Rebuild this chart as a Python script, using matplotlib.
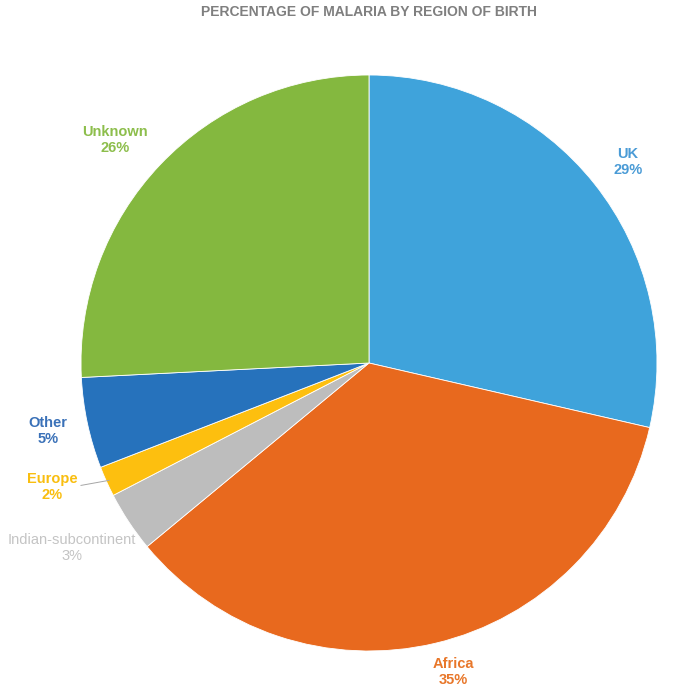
import numpy as np
import matplotlib.pyplot as plt

plt.rcParams['font.family'] = ['Liberation Sans', 'DejaVu Sans']

# Data (displayed rounded)
regions = ['UK', 'Africa', 'Indian-subcontinent', 'Europe', 'Other', 'Unknown']
shares = [28.6, 35.4, 3.4, 1.7, 5.1, 25.8]
colors = ['#3FA3DB', '#E8691E', '#BDBDBD', '#FDBF0F', '#2672BC', '#84B83F']
label_colors = ['#4A9BD6', '#E8772A', '#C4C4C4', '#F9BE10', '#3A71B8', '#8DBE4C']

# label centres (in pie radius units) and weight per slice
label_pos = [(0.899, 0.698), (0.292, -1.073), (-1.031, -0.642),
             (-1.101, -0.431), (-1.115, -0.236), (-0.882, 0.773)]
label_bold = [True, True, False, True, True, True]

fig = plt.figure(figsize=(6.74, 6.92), dpi=100)
ax = fig.add_axes([0, 0, 1, 1])

wedges, _ = ax.pie(shares, colors=colors, startangle=90, counterclock=False,
                   wedgeprops=dict(edgecolor='white', linewidth=0.6))

ax.set_aspect('auto')
ax.set_xlim(-369 / 288, (674 - 369) / 288)
ax.set_ylim(-(692 - 363) / 288, 363 / 288)
ax.axis('off')

for w, name, val, c, (x, y), b in zip(wedges, regions, shares, label_colors, label_pos, label_bold):
    ax.text(x, y, f'{name}\n{val:.0f}%', color=c, ha='center', va='center',
            fontsize=10.5, fontweight='bold' if b else 'normal', linespacing=1.2)
    if name == 'Europe':
        # leader line from label to the wedge edge
        ang = np.deg2rad((w.theta1 + w.theta2) / 2)
        ax.plot([-1.0, 0.99 * np.cos(ang)], [-0.425, 0.99 * np.sin(ang)],
                color='#A6A6A6', linewidth=0.7)

fig.text(0.547, 0.982, 'PERCENTAGE OF MALARIA BY REGION OF BIRTH', ha='center', va='center',
         fontsize=10, fontweight='bold', color='#7F7F7F')

fig.savefig('out.png', dpi=100)
